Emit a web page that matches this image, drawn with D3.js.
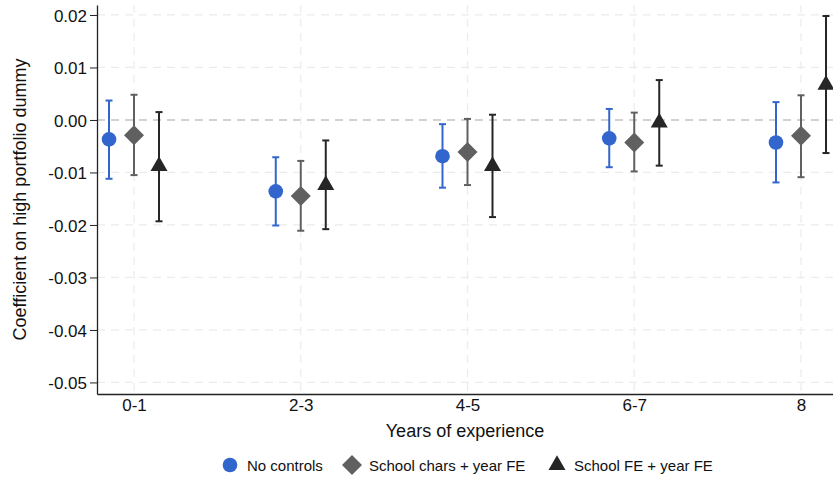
<!DOCTYPE html>
<html>
<head>
<meta charset="utf-8">
<script src="https://cdn.jsdelivr.net/npm/d3@7"></script>
<style>
  body { margin: 0; background: #fff; }
  svg { display: block; font-family: "Liberation Sans", Arial, sans-serif; }
  .axis-scale text { font-size: 17px; fill: #111; }
  .axis-scale path, .axis-scale line { stroke: #222; }
</style>
</head>
<body>
<div id="chart-container"></div>
<script>
// experience groups on x axis
var GROUPS = ["0-1", "2-3", "4-5", "6-7", "8"];
// y axis tick values
var Y_TICKS = [0.02, 0.01, 0.00, -0.01, -0.02, -0.03, -0.04, -0.05];
// series names
var SERIES = ["No controls", "School chars + year FE", "School FE + year FE"];
// point estimates per series
var EST_NONE = [-0.0037, -0.0136, -0.0069, -0.0035, -0.0043];
var EST_CHARS = [-0.0029, -0.0145, -0.0061, -0.0043, -0.0030];
var EST_FE = [-0.0088, -0.0124, -0.0088, -0.0005, 0.0067];
// lower confidence bounds
var LO_NONE = [-0.0112, -0.0201, -0.0129, -0.0090, -0.0119];
var LO_CHARS = [-0.0105, -0.0211, -0.0124, -0.0098, -0.0109];
var LO_FE = [-0.0193, -0.0208, -0.0185, -0.0087, -0.0063];
// upper confidence bounds
var HI_NONE = [0.0037, -0.0071, -0.0008, 0.0021, 0.0034];
var HI_CHARS = [0.0048, -0.0078, 0.0002, 0.0014, 0.0047];
var HI_FE = [0.0015, -0.0039, 0.0010, 0.0076, 0.0198];

function drawChart() {
    var W = 833, H = 481;
    var left = 97, right = 833, top = 5, bottom = 394;

    var svg = d3.select("#chart-container")
        .append("svg")
        .attr("width", W)
        .attr("height", H);

    // x scale on group index, groups are 166.75px apart
    var x = d3.scaleLinear()
        .domain([-0.222, 4.192])
        .range([left, right]);
    var y = d3.scaleLinear()
        .domain([-0.0522, 0.0219])
        .range([bottom, top]);

    // horizontal grid
    svg.append("g")
        .selectAll("line")
        .data(Y_TICKS)
        .enter()
        .append("line")
        .attr("x1", left)
        .attr("x2", right)
        .attr("y1", function (d) { return y(d); })
        .attr("y2", function (d) { return y(d); })
        .attr("stroke", function (d) { return d === 0 ? "#c4c4c4" : "#ececec"; })
        .attr("stroke-width", function (d) { return d === 0 ? 1.6 : 1.2; })
        .attr("stroke-dasharray", "8,6");

    // vertical grid at group centers
    svg.append("g")
        .selectAll("line")
        .data(GROUPS)
        .enter()
        .append("line")
        .attr("x1", function (d, i) { return x(i); })
        .attr("x2", function (d, i) { return x(i); })
        .attr("y1", top)
        .attr("y2", bottom)
        .attr("stroke", "#ececec")
        .attr("stroke-width", 1.2)
        .attr("stroke-dasharray", "8,6");

    // left axis, plain hyphen for negatives
    var fmt = function (d) { return d3.format(".2f")(d).replace("\u2212", "-"); };
    svg.append("g")
        .attr("class", "axis-scale")
        .attr("transform", "translate(" + left + ",0)")
        .call(d3.axisLeft(y).tickValues(Y_TICKS).tickFormat(fmt).tickSize(7).tickPadding(3).tickSizeOuter(0))
        .call(function (g) { g.select(".domain").attr("stroke-width", 1.3); })
        .selectAll("text")
        .attr("dy", "0.36em");

    // bottom axis
    svg.append("g")
        .attr("class", "axis-scale")
        .attr("transform", "translate(0," + bottom + ")")
        .call(d3.axisBottom(x).tickValues(d3.range(GROUPS.length)).tickFormat(function (i) { return GROUPS[i]; }).tickSize(0).tickPadding(5).tickSizeOuter(0))
        .call(function (g) { g.select(".domain").attr("stroke-width", 1.3); });

    // axis titles
    svg.append("text")
        .attr("transform", "translate(26," + ((top + bottom) / 2) + ") rotate(-90)")
        .attr("text-anchor", "middle")
        .attr("font-size", "18px")
        .attr("fill", "#111")
        .text("Coefficient on high portfolio dummy");
    svg.append("text")
        .attr("x", (left + right) / 2)
        .attr("y", 437)
        .attr("text-anchor", "middle")
        .attr("font-size", "18px")
        .attr("fill", "#111")
        .text("Years of experience");

    var diamond = d3.symbol().type(d3.symbolSquare).size(200)();
    var series = [
        { est: EST_NONE, lo: LO_NONE, hi: HI_NONE, color: "#3366cc", off: -25, shape: d3.symbol().type(d3.symbolCircle).size(168)(), rot: 0 },
        { est: EST_CHARS, lo: LO_CHARS, hi: HI_CHARS, color: "#606060", off: 0, shape: diamond, rot: 45 },
        { est: EST_FE, lo: LO_FE, hi: HI_FE, color: "#262626", off: 25, shape: d3.symbol().type(d3.symbolTriangle).size(125)(), rot: 0 }
    ];

    var capW = 3.5;
    series.forEach(function (s) {
        var g = svg.append("g").attr("stroke", s.color).attr("fill", s.color);
        var idx = d3.range(GROUPS.length);
        // error bars
        g.selectAll(".bar")
            .data(idx)
            .enter()
            .append("line")
            .attr("x1", function (i) { return x(i) + s.off; })
            .attr("x2", function (i) { return x(i) + s.off; })
            .attr("y1", function (i) { return y(s.lo[i]); })
            .attr("y2", function (i) { return y(s.hi[i]); })
            .attr("stroke-width", 2);
        // caps
        [s.lo, s.hi].forEach(function (arr) {
            g.selectAll(null)
                .data(idx)
                .enter()
                .append("line")
                .attr("x1", function (i) { return x(i) + s.off - capW; })
                .attr("x2", function (i) { return x(i) + s.off + capW; })
                .attr("y1", function (i) { return y(arr[i]); })
                .attr("y2", function (i) { return y(arr[i]); })
                .attr("stroke-width", 2);
        });
        // markers
        g.selectAll(null)
            .data(idx)
            .enter()
            .append("path")
            .attr("d", s.shape)
            .attr("stroke", "none")
            .attr("transform", function (i) {
                return "translate(" + (x(i) + s.off) + "," + y(s.est[i]) + ") rotate(" + s.rot + ")";
            });
    });

    // legend
    var legendX = [230, 352, 557];
    var legend = svg.append("g");
    series.forEach(function (s, k) {
        legend.append("path")
            .attr("d", s.shape)
            .attr("fill", s.color)
            .attr("transform", "translate(" + legendX[k] + ",465) rotate(" + s.rot + ")");
        legend.append("text")
            .attr("x", legendX[k] + 17)
            .attr("y", 470.5)
            .attr("font-size", "15px")
            .attr("fill", "#111")
            .text(SERIES[k]);
    });
}

window.onload = function () {
    drawChart();
};
</script>
</body>
</html>
